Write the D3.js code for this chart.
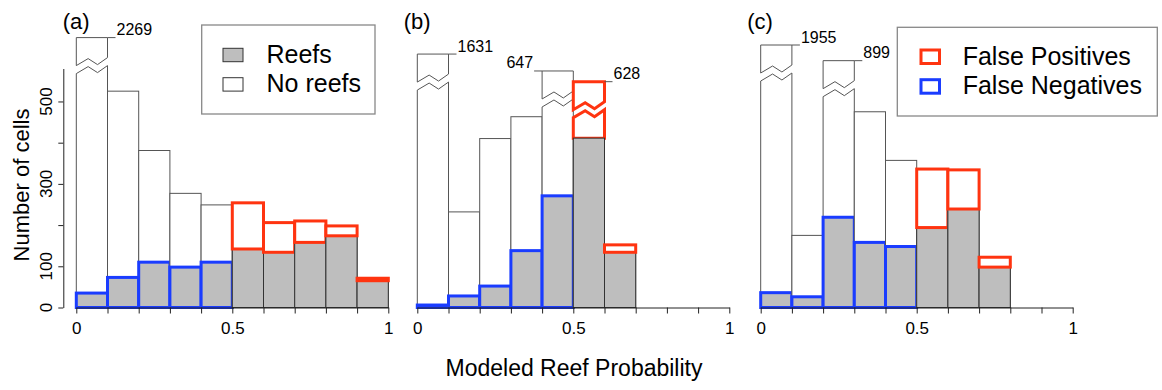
<!DOCTYPE html>
<html>
<head>
<meta charset="utf-8">
<script src="https://cdn.jsdelivr.net/npm/d3@7"></script>
<style>
  body { margin: 0; background: #fff; }
  svg { font-family: "Liberation Sans", Arial, sans-serif; }
</style>
</head>
<body>
<div id="chart"></div>
<script>
// bins of modeled reef probability (left edges, width 0.1)
const binStarts = [0, 0.1, 0.2, 0.3, 0.4, 0.5, 0.6, 0.7, 0.8, 0.9];
const binWidth = 0.1;
const threshold = 0.5;

// all cells (reefs + no reefs) and reef cells per bin
const totalA = [2269, 525, 381, 277, 249, 254, 206, 210, 198, 71];
const reefsA = [35, 73, 110, 98, 110, 142, 134, 158, 174, 65];
const totalB = [1631, 232, 410, 463, 647, 628, 152, 0, 0, 0];
const reefsB = [6, 28, 52, 138, 271, 411, 134, 0, 0, 0];
const totalC = [1955, 175, 899, 475, 357, 336, 334, 122, 0, 0];
const reefsC = [36, 26, 219, 158, 148, 194, 239, 98, 0, 0];

// broken bars: bin index -> height shown above the break (cells)
const brokenA = {0: 655};
const brokenB = {0: 615, 4: 574, 5: 548};
const brokenC = {0: 637, 2: 599};
// which side the count label sits on
const labelLeftB = [4];

const panelLetters = ['(a)', '(b)', '(c)'];
const yTicks = [0, 100, 200, 300, 400, 500];
const yTickLabels = ['0', '100', '', '300', '', '500'];
const xTicks = [0, 0.1, 0.2, 0.3, 0.4, 0.5, 0.6, 0.7, 0.8, 0.9, 1];
const xTickLabels = {0: '0', 0.5: '0.5', 1: '1'};

const legend1 = ['Reefs', 'No reefs'];
const legend2 = ['False Positives', 'False Negatives'];

const RED = '#ff3410', BLUE = '#1a3cff', GREY = '#bebebe';

const W = 1162, H = 390;
const svg = d3.select('#chart').append('svg').attr('width', W).attr('height', H);

const baseY = 307.5;
const y = d3.scaleLinear().domain([0, 580]).range([baseY, 68.5]);
const panelX = [76.3, 417.3, 760.7];
const panelW = 312;

const panels = [
  {total: totalA, reefs: reefsA, broken: brokenA, left: []},
  {total: totalB, reefs: reefsB, broken: brokenB, left: labelLeftB},
  {total: totalC, reefs: reefsC, broken: brokenC, left: []}
];

// zigzag used for the axis break, relative to its left end
const zig = [[0, 0], [0.38, -7], [0.68, -1], [1, -8]];

function zigPath(x0, x1, yl) {
  return zig.map(([f, dy]) => [x0 + f * (x1 - x0), yl + dy]);
}

function polyD(pts) {
  return 'M' + pts.map(p => p[0] + ',' + p[1]).join('L') + 'Z';
}

panels.forEach((p, pi) => {
  const x = d3.scaleLinear().domain([0, 1]).range([panelX[pi], panelX[pi] + panelW]);
  const g = svg.append('g');

  binStarts.forEach((b, i) => {
    const x0 = x(b), x1 = x(b + binWidth);
    const tot = p.total[i], rf = p.reefs[i];
    const fp = b >= threshold - 1e-9;
    if (tot <= 0) return;
    const shown = p.broken[i];

    if (shown === undefined) {
      // white bar of all cells
      g.append('rect').attr('x', x0).attr('y', y(tot)).attr('width', x1 - x0)
        .attr('height', baseY - y(tot)).attr('fill', '#fff').attr('stroke', '#555').attr('stroke-width', 1);
    } else {
      const top = y(shown);
      const lowZ = zigPath(x0, x1, top + 36);
      const upZ = zigPath(x0, x1, top + 28);
      const upper = [[x0, top], [x1, top]].concat(upZ.slice().reverse());
      const lower = [[x0, baseY]].concat(lowZ).concat([[x1, baseY]]);
      const col = fp ? RED : '#555';
      const sw = fp ? 3 : 1;
      g.append('path').attr('d', polyD(lower)).attr('fill', '#fff').attr('stroke', '#555').attr('stroke-width', 1);
      if (fp) {
        const redLow = [[x0, y(rf)]].concat(lowZ).concat([[x1, y(rf)]]);
        g.append('path').attr('d', polyD(redLow)).attr('fill', 'none').attr('stroke', col).attr('stroke-width', sw);
      }
      g.append('path').attr('d', polyD(upper)).attr('fill', '#fff').attr('stroke', col).attr('stroke-width', sw);

      // count label with short leader
      const onLeft = p.left.indexOf(i) >= 0;
      const lx = onLeft ? x0 : x1;
      const lx2 = onLeft ? x0 - 8 : x1 + 8;
      g.append('line').attr('x1', lx).attr('x2', lx2).attr('y1', top).attr('y2', top)
        .attr('stroke', '#555').attr('stroke-width', 1);
      g.append('text').attr('x', onLeft ? lx2 - 1 : lx2 + 1).attr('y', top - 2.5)
        .attr('text-anchor', onLeft ? 'end' : 'start').attr('font-size', 16).text(tot);
    }

    // reef cells
    if (rf > 0) {
      g.append('rect').attr('x', x0).attr('y', y(rf)).attr('width', x1 - x0)
        .attr('height', baseY - y(rf)).attr('fill', GREY).attr('stroke', '#333').attr('stroke-width', 1);
    }

    if (fp && shown === undefined && tot > rf) {
      // false positives: non-reef cells above threshold
      g.append('rect').attr('x', x0).attr('y', y(tot)).attr('width', x1 - x0)
        .attr('height', y(rf) - y(tot)).attr('fill', 'none').attr('stroke', RED).attr('stroke-width', 3);
    }
    if (!fp && rf > 0) {
      // false negatives: reef cells below threshold
      g.append('rect').attr('x', x0).attr('y', y(rf)).attr('width', x1 - x0)
        .attr('height', baseY - y(rf)).attr('fill', 'none').attr('stroke', BLUE).attr('stroke-width', 3);
    }
  });

  // x axis
  const xa = svg.append('g').attr('transform', 'translate(0,' + baseY + ')')
    .call(d3.axisBottom(x).tickValues(xTicks).tickSizeInner(6).tickSizeOuter(0).tickPadding(8)
      .tickFormat(d => xTickLabels[Math.round(d * 10) / 10] || ''));
  xa.selectAll('text').attr('font-size', 17).attr('font-family', 'Liberation Sans, Arial, sans-serif').attr('fill', '#000');
  xa.selectAll('line,path').attr('stroke', '#222');

  svg.append('text').attr('x', panelX[pi] - 13.5).attr('y', 28.5).attr('font-size', 22).text(panelLetters[pi]);
});

// y axis, panel (a) only
const ya = svg.append('g').attr('transform', 'translate(63.3,0)')
  .call(d3.axisLeft(y).tickValues(yTicks).tickSizeInner(5).tickSizeOuter(0).tickFormat(''));
ya.selectAll('line,path').attr('stroke', '#222');
yTicks.forEach((t, i) => {
  svg.append('text').attr('transform', 'translate(51.5,' + y(t) + ') rotate(-90)')
    .attr('text-anchor', 'middle').attr('font-size', 17).text(yTickLabels[i]);
});

svg.append('text').attr('transform', 'translate(29,185) rotate(-90)')
  .attr('text-anchor', 'middle').attr('font-size', 22).text('Number of cells');
svg.append('text').attr('x', 574).attr('y', 376)
  .attr('text-anchor', 'middle').attr('font-size', 23).text('Modeled Reef Probability');

// legends
const lg1 = svg.append('g');
lg1.append('rect').attr('x', 201.7).attr('y', 25).attr('width', 173.3).attr('height', 89)
  .attr('fill', '#fff').attr('stroke', '#888').attr('stroke-width', 1.3);
legend1.forEach((t, i) => {
  lg1.append('rect').attr('x', 223).attr('y', 48.3 + i * 29.4).attr('width', 20).attr('height', 13.4)
    .attr('fill', i === 0 ? GREY : '#fff').attr('stroke', '#333').attr('stroke-width', 1);
  lg1.append('text').attr('x', 266.5).attr('y', 63 + i * 29).attr('font-size', 25).text(t);
});

const lg2 = svg.append('g');
lg2.append('rect').attr('x', 897.3).attr('y', 27.3).attr('width', 260).attr('height', 88.7)
  .attr('fill', '#fff').attr('stroke', '#888').attr('stroke-width', 1.3);
legend2.forEach((t, i) => {
  lg2.append('rect').attr('x', 921).attr('y', 50 + i * 29.7).attr('width', 18.5).attr('height', 13.5)
    .attr('fill', 'none').attr('stroke', i === 0 ? RED : BLUE).attr('stroke-width', 3);
  lg2.append('text').attr('x', 962.7).attr('y', 64.5 + i * 29.7).attr('font-size', 25).text(t);
});
</script>
</body>
</html>
